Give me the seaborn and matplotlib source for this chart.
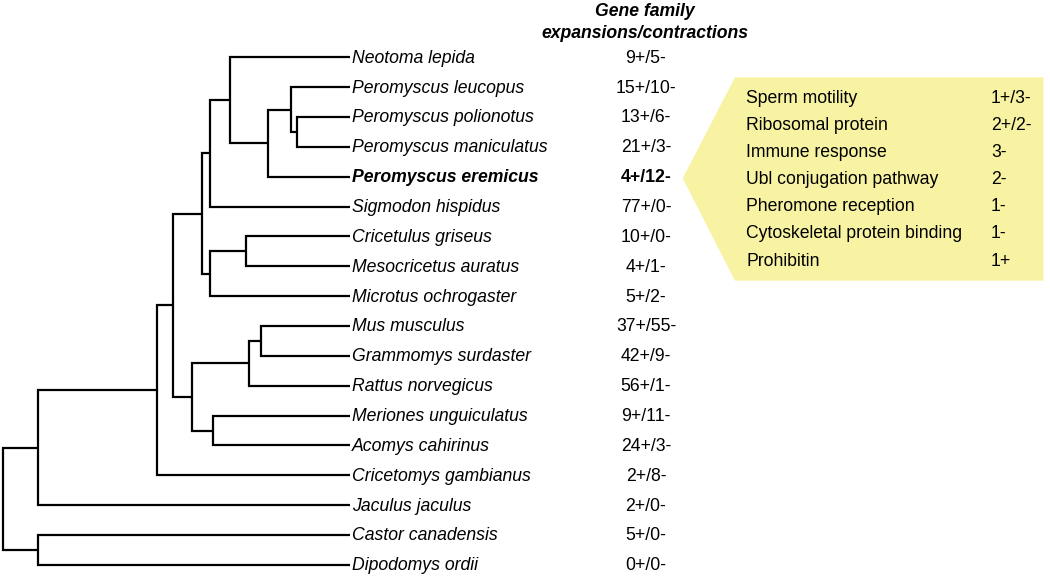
import matplotlib
matplotlib.use("Agg")
import matplotlib.pyplot as plt
from matplotlib.patches import Polygon
import numpy as np
import pandas as pd
import seaborn as sns

# leaves, top to bottom
species = ["Neotoma lepida", "Peromyscus leucopus", "Peromyscus polionotus",
           "Peromyscus maniculatus", "Peromyscus eremicus", "Sigmodon hispidus",
           "Cricetulus griseus", "Mesocricetus auratus", "Microtus ochrogaster",
           "Mus musculus", "Grammomys surdaster", "Rattus norvegicus",
           "Meriones unguiculatus", "Acomys cahirinus", "Cricetomys gambianus",
           "Jaculus jaculus", "Castor canadensis", "Dipodomys ordii"]
gains = [9, 15, 13, 21, 4, 77, 10, 4, 5, 37, 42, 56, 9, 24, 2, 2, 5, 0]
losses = [5, 10, 6, 3, 12, 0, 0, 1, 2, 55, 9, 1, 11, 3, 8, 0, 0, 0]
focal = "Peromyscus eremicus"

# internal nodes: id, two children, relative depth (root 0, tips 1)
node_ids = ["root", "castorimorpha", "myodonta", "muroidea", "core_muroid",
            "cricetid", "neotomine", "neotoma_pero", "peromyscus", "pero_lp",
            "pero_pm", "arvic_crice", "crice_meso", "murid", "murinae",
            "mus_gram", "gerb_deomy"]
node_kids = [("myodonta", "castorimorpha"),
             ("Castor canadensis", "Dipodomys ordii"),
             ("muroidea", "Jaculus jaculus"),
             ("core_muroid", "Cricetomys gambianus"),
             ("cricetid", "murid"),
             ("neotomine", "arvic_crice"),
             ("neotoma_pero", "Sigmodon hispidus"),
             ("Neotoma lepida", "peromyscus"),
             ("pero_lp", "Peromyscus eremicus"),
             ("Peromyscus leucopus", "pero_pm"),
             ("Peromyscus polionotus", "Peromyscus maniculatus"),
             ("crice_meso", "Microtus ochrogaster"),
             ("Cricetulus griseus", "Mesocricetus auratus"),
             ("murinae", "gerb_deomy"),
             ("mus_gram", "Rattus norvegicus"),
             ("Mus musculus", "Grammomys surdaster"),
             ("Meriones unguiculatus", "Acomys cahirinus")]
node_depth = [0.0, 0.1025, 0.1025, 0.4434, 0.4912, 0.5738, 0.5969, 0.6545,
              0.7639, 0.8301, 0.8474, 0.5969, 0.6997, 0.5442, 0.7092,
              0.7429, 0.6064]

# enriched terms for the focal species
terms = ["Sperm motility", "Ribosomal protein", "Immune response",
         "Ubl conjugation pathway", "Pheromone reception",
         "Cytoskeletal protein binding", "Prohibitin"]
term_counts = ["1+/3-", "2+/2-", "3-", "2-", "1-", "1-", "1+"]

W, H = 1050, 580


def px(x, y):
    # pixel position -> figure fraction
    return x / W, 1 - y / H


# layout: leaf rows and node positions
pos = {s: (1.0, i) for i, s in enumerate(species)}
kids = dict(zip(node_ids, node_kids))
depth = dict(zip(node_ids, node_depth))


def place(n):
    if n in pos:
        return pos[n]
    a, b = kids[n]
    ya = place(a)[1]
    yb = place(b)[1]
    pos[n] = (depth[n], (ya + yb) / 2)
    return pos[n]


place("root")

rows = []
for n in node_ids:
    a, b = kids[n]
    xn = pos[n][0]
    pts = [pos[a], (xn, pos[a][1]), (xn, pos[b][1]), pos[b]]
    for k, (x, y) in enumerate(pts):
        rows.append({"x": x, "y": y, "path": n, "k": k})
edges = pd.DataFrame(rows)

sns.set_theme(style="white")
plt.rcParams["font.family"] = ["Liberation Sans", "DejaVu Sans"]
plt.rcParams["text.color"] = "black"

fig = plt.figure(figsize=(10.5, 5.8), dpi=100)
ax = fig.add_axes([0, 0, 1, 1])
sns.lineplot(data=edges, x="x", y="y", units="path", estimator=None, sort=False,
             color="black", lw=1.6, legend=False, ax=ax,
             solid_joinstyle="miter", solid_capstyle="butt")

# data units -> pixels: root at 2.7 px, tips at 350 px; rows 57.3 px + 29.86 px each
sx = 347.3
ax.set_xlim(-2.7 / sx, (W - 2.7) / sx)
ax.set_ylim((H - 57.3) / 29.86, -57.3 / 29.86)
ax.set_axis_off()

fs = 12.7
count_x = (646 - 2.7) / sx
for i, s in enumerate(species):
    wt = "bold" if s == focal else "normal"
    ax.text(1.0 + 2 / sx, i + 0.03, s, ha="left", va="center", fontsize=fs,
            style="italic", fontweight=wt)
    ax.text(count_x, i + 0.03, f"{gains[i]}+/{losses[i]}-", ha="center",
            va="center", fontsize=fs, fontweight=wt)

fig.text(*px(645, 11), "Gene family", ha="center", va="center", fontsize=fs,
         style="italic", fontweight="bold")
fig.text(*px(645, 33.5), "expansions/contractions", ha="center", va="center",
         fontsize=fs, style="italic", fontweight="bold")

# callout
box = [px(682.7, 178.3), px(735, 77.3), px(1043.3, 77.3), px(1043.3, 280.7),
       px(735, 280.7)]
fig.patches.append(Polygon(box, closed=True, transform=fig.transFigure,
                           facecolor="#f8f3a2", edgecolor="none", zorder=0))
for j, (t, c) in enumerate(zip(terms, term_counts)):
    yy = 98.5 + 27.1 * j
    fig.text(*px(746, yy), t, ha="left", va="center", fontsize=fs)
    fig.text(*px(991, yy), c, ha="left", va="center", fontsize=fs)

fig.savefig("out.png", dpi=100)
